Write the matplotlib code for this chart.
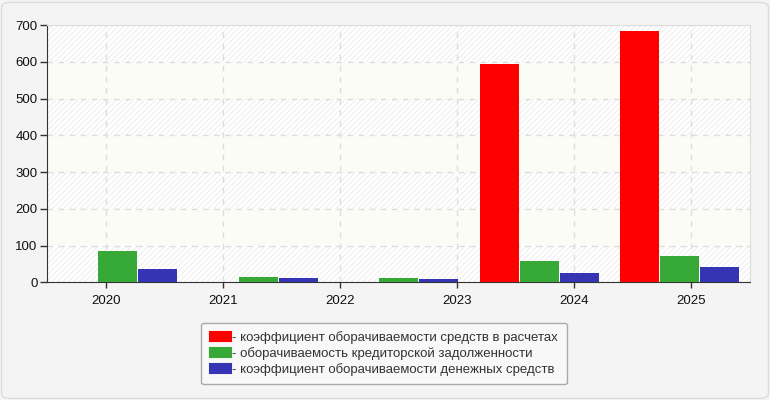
import matplotlib.pyplot as plt
from matplotlib.patches import FancyBboxPatch, Patch

# data
year_labels = ['2020', '2021', '2022', '2023', '2024', '2025']
settlements_turnover = [0, 0, 0, 594, 684]
payables_turnover = [85, 14.5, 12, 58, 71.5]
cash_turnover = [36, 11.5, 9, 25, 41.5]

series_names = ['- коэффициент оборачиваемости средств в расчетах',
                '- оборачиваемость кредиторской задолженности',
                '- коэффициент оборачиваемости денежных средств']
series_colors = ['#ff0000', '#36a936', '#3434b4']

plt.rcParams['font.family'] = ['Liberation Sans', 'DejaVu Sans']
plt.rcParams['hatch.linewidth'] = 0.8

fig = plt.figure(figsize=(7.7, 4), dpi=100, facecolor='#f4f4f4')
fig.patches.append(FancyBboxPatch((0.002, 0.004), 0.996, 0.99, boxstyle='round,pad=0,rounding_size=0.012',
                                  transform=fig.transFigure, facecolor='none', edgecolor='#dcdcdc', lw=1))

ax = fig.add_axes([0.0614, 0.294, 0.9126, 0.6435])
ax.set_facecolor('white')

# alternating bands between grid lines
for i, lo in enumerate(range(0, 700, 100)):
    if i % 2 == 0:
        ax.axhspan(lo, lo + 100, facecolor='white', hatch='//////', edgecolor='#efefef', lw=0, zorder=0)
    else:
        ax.axhspan(lo, lo + 100, facecolor='#fcfcf6', edgecolor='none', lw=0, zorder=0)

n = len(settlements_turnover)
width = 0.278
step = 0.285
values = [settlements_turnover, payables_turnover, cash_turnover]
for k, (vals, col) in enumerate(zip(values, series_colors)):
    xs = [i + (k - 1) * step for i in range(n)]
    ax.bar(xs, vals, width=width, color=col, zorder=3)

ax.set_xlim(-0.5, n - 0.5)
ax.set_ylim(0, 700)
ax.set_yticks(range(0, 701, 100))

# labels are spread evenly over the whole axis
m = len(year_labels)
tick_pos = [-0.5 + (j + 0.5) * n / m for j in range(m)]
ax.set_xticks(tick_pos)
ax.set_xticklabels(year_labels)

ax.grid(True, color='#dddddd', linestyle=(0, (4, 4)), linewidth=1, zorder=1)
ax.tick_params(axis='both', labelsize=9.5, colors='#333333', length=5, width=1)
ax.tick_params(axis='x', length=4, pad=5)
ax.tick_params(axis='y', pad=2)
for lab in ax.get_xticklabels() + ax.get_yticklabels():
    lab.set_color('#111111')

ax.spines['left'].set_color('#333333')
ax.spines['bottom'].set_color('#333333')
ax.spines['top'].set_color('#dddddd')
ax.spines['right'].set_color('#dddddd')

handles = [Patch(facecolor=c, edgecolor=c, joinstyle='round', lw=1.5) for c in series_colors]
leg = fig.legend(handles, series_names, loc='upper center', bbox_to_anchor=(0.4985, 0.21),
                 fontsize=9.5, frameon=True, fancybox=True, edgecolor='#aaaaaa', facecolor='#f8f8f8',
                 handlelength=1.6, handleheight=0.7, handletextpad=0.1, labelspacing=0.22,
                 borderpad=0.65, framealpha=1)
leg.get_frame().set_linewidth(1)
for t in leg.get_texts():
    t.set_color('#333333')

fig.savefig('out.png', dpi=100, facecolor=fig.get_facecolor())
